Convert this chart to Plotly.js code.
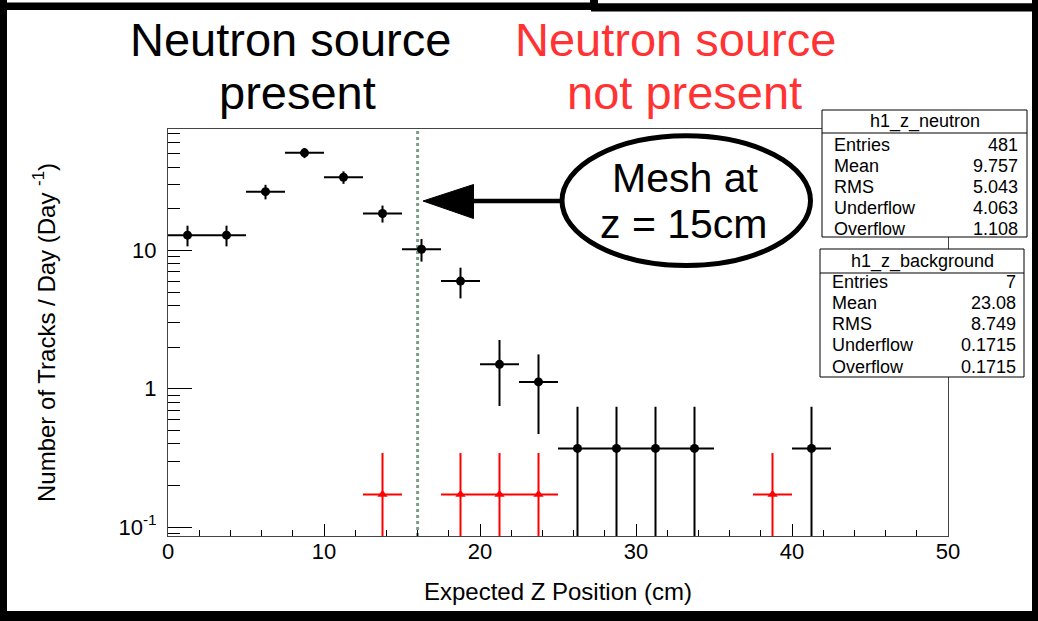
<!DOCTYPE html>
<html>
<head>
<meta charset="utf-8">
<script src="https://cdn.plot.ly/plotly-3.0.1.min.js"></script>
<style>
  html, body { margin: 0; padding: 0; background: #ffffff; }
  #chart { width: 1038px; height: 621px; }
</style>
</head>
<body>
<div id="chart"></div>
<script>
// ---------- data ----------
const neutronZ    = [1.25, 3.75, 6.25, 8.75, 11.25, 13.75, 16.25, 18.75, 21.25, 23.75, 26.25, 28.75, 31.25, 33.75, 41.25];
const neutronRate = [12.9, 12.9, 26.6, 50.8, 33.8, 18.5, 10.2, 6.0, 1.5, 1.12, 0.37, 0.37, 0.37, 0.37, 0.37];
const neutronErr  = [2.2, 2.2, 3.2, 4.3, 3.5, 2.6, 1.9, 1.5, 0.75, 0.65, 0.37, 0.37, 0.37, 0.37, 0.37];
const neutronBinHalf = [1.25, 1.25, 1.25, 1.25, 1.25, 1.25, 1.25, 1.25, 1.25, 1.25, 1.25, 1.25, 1.25, 1.25, 1.25];

const backgroundZ    = [13.75, 18.75, 21.25, 23.75, 38.75];
const backgroundRate = [0.1715, 0.1715, 0.1715, 0.1715, 0.1715];
const backgroundErr  = [0.1715, 0.1715, 0.1715, 0.1715, 0.1715];
const backgroundBinHalf = [1.25, 1.25, 1.25, 1.25, 1.25];

const meshZ = 16;

const xTickVals = [0, 10, 20, 30, 40, 50];
const xMinorStep = 2;
const yTickVals = [0.1, 1, 10];
const yTickText = ['10<sup>-1</sup>', '1', '10'];
const yMinorVals = [0.09, 0.2, 0.3, 0.4, 0.5, 0.6, 0.7, 0.8, 0.9, 2, 3, 4, 5, 6, 7, 8, 9, 20, 30, 40, 50, 60, 70];

const statLabels = ['Entries', 'Mean', 'RMS', 'Underflow', 'Overflow'];
const statsNeutronName = 'h1_z_neutron';
const statsNeutronValues = ['481', '9.757', '5.043', '4.063', '1.108'];
const statsBackgroundName = 'h1_z_background';
const statsBackgroundValues = ['7', '23.08', '8.749', '0.1715', '0.1715'];

// ---------- geometry helpers (pixel -> paper) ----------
const W = 1038, H = 621;
const ML = 168, MR = 90, MT = 129, MB = 85;
const PW = W - ML - MR, PH = H - MT - MB;
const px = x => (x - ML) / PW;
const py = y => (H - MB - y) / PH;

const FONT = 'Liberation Sans, Arial, Helvetica, sans-serif';

function txt(text, x, y, size, color, xanchor) {
  return {
    text: text, xref: 'paper', yref: 'paper', x: px(x), y: py(y),
    xanchor: xanchor || 'center', yanchor: 'middle', showarrow: false,
    font: { family: FONT, size: size, color: color || '#000' }
  };
}
function rectPx(x0, y0, x1, y1, fill, lineColor, lineWidth) {
  return {
    type: 'rect', xref: 'paper', yref: 'paper', layer: 'above',
    x0: px(x0), x1: px(x1), y0: py(y1), y1: py(y0),
    fillcolor: fill, line: { color: lineColor || fill, width: lineWidth === undefined ? 0 : lineWidth }
  };
}

// ---------- traces ----------
const traces = [
  {
    type: 'scatter', mode: 'markers', name: statsNeutronName,
    x: neutronZ, y: neutronRate,
    error_y: { type: 'data', array: neutronErr, visible: true, color: '#000', thickness: 2, width: 0 },
    error_x: { type: 'data', array: neutronBinHalf, visible: true, color: '#000', thickness: 2, width: 0 },
    marker: { color: '#000', size: 9, symbol: 'circle' },
    cliponaxis: true
  },
  {
    type: 'scatter', mode: 'markers', name: statsBackgroundName,
    x: backgroundZ, y: backgroundRate,
    error_y: { type: 'data', array: backgroundErr, visible: true, color: '#ff0000', thickness: 2, width: 0 },
    error_x: { type: 'data', array: backgroundBinHalf, visible: true, color: '#ff0000', thickness: 2, width: 0 },
    marker: { color: '#ff0000', size: 9, symbol: 'triangle-up' },
    cliponaxis: true
  }
];

// ---------- shapes ----------
const shapes = [];
// mesh line
shapes.push({
  type: 'line', xref: 'x', yref: 'paper', x0: meshZ, x1: meshZ, y0: 0, y1: 1, layer: 'below',
  line: { color: '#7a9e88', width: 3, dash: 'dot' }
});
// stats boxes
shapes.push(rectPx(822, 110, 1027, 237, '#ffffff', '#000', 1));
shapes.push({ type: 'line', xref: 'paper', yref: 'paper', layer: 'above', x0: px(822), x1: px(1027), y0: py(133), y1: py(133), line: { color: '#000', width: 1 } });
shapes.push(rectPx(820, 249, 1024, 377, '#ffffff', '#000', 1));
shapes.push({ type: 'line', xref: 'paper', yref: 'paper', layer: 'above', x0: px(820), x1: px(1024), y0: py(273), y1: py(273), line: { color: '#000', width: 1 } });
// ellipse
shapes.push({
  type: 'circle', xref: 'paper', yref: 'paper', layer: 'above',
  x0: px(562), x1: px(810.5), y0: py(265.5), y1: py(135.8),
  fillcolor: '#ffffff', line: { color: '#000', width: 5 }
});
// arrow shaft
shapes.push({ type: 'line', xref: 'paper', yref: 'paper', layer: 'above', x0: px(560), x1: px(468), y0: py(201), y1: py(201), line: { color: '#000', width: 4.5 } });
// arrow head
shapes.push({
  type: 'path', xref: 'paper', yref: 'paper', layer: 'above',
  path: 'M ' + px(423) + ' ' + py(201) + ' L ' + px(473.5) + ' ' + py(184.5) + ' L ' + px(473.5) + ' ' + py(218.5) + ' Z',
  fillcolor: '#000', line: { color: '#000', width: 1 }
});
// outer frame (black border)
shapes.push(rectPx(0, 0, 7, 621, '#000'));
shapes.push(rectPx(1032, 0, 1038, 621, '#000'));
shapes.push(rectPx(0, 2.5, 591, 10, '#000'));
shapes.push(rectPx(590, 0, 598, 10, '#000'));
shapes.push(rectPx(591, 3.3, 1038, 11.5, '#000'));
shapes.push(rectPx(0, 611, 1038, 621, '#000'));

// ---------- annotations ----------
const annotations = [];
annotations.push(txt('Neutron source', 290, 39.5, 47, '#000'));
annotations.push(txt('present', 297, 93, 47, '#000'));
annotations.push(txt('Neutron source', 675.5, 39.5, 47, '#ff3333'));
annotations.push(txt('not present', 684, 93, 47, '#ff3333'));
annotations.push(txt('Mesh at', 685, 177.5, 41, '#000'));
annotations.push(txt('z = 15cm', 683.5, 224, 41, '#000'));

const rowsN = [145, 166, 187, 208, 229];
const rowsB = [282, 303, 324, 345, 366.5];
annotations.push(txt(statsNeutronName, 924.5, 121.5, 18, '#000'));
annotations.push(txt(statsBackgroundName, 922, 261, 18, '#000'));
statLabels.forEach((lab, i) => {
  annotations.push(txt(lab, 832, rowsN[i], 18, '#000', 'left'));
  annotations.push(txt(statsNeutronValues[i], 1020, rowsN[i], 18, '#000', 'right'));
  annotations.push(txt(lab, 830, rowsB[i], 18, '#000', 'left'));
  annotations.push(txt(statsBackgroundValues[i], 1018, rowsB[i], 18, '#000', 'right'));
});

// ---------- layout ----------
const layout = {
  width: W, height: H,
  margin: { l: ML, r: MR, t: MT, b: MB, pad: 0 },
  paper_bgcolor: '#ffffff', plot_bgcolor: '#ffffff',
  showlegend: false,
  font: { family: FONT, color: '#000' },
  xaxis: {
    range: [0, 50], showgrid: false, zeroline: false,
    showline: true, linecolor: '#444', linewidth: 1, mirror: true,
    ticks: 'inside', ticklen: 12, tickwidth: 1, tickcolor: '#000',
    tickmode: 'array', tickvals: xTickVals,
    minor: { dtick: xMinorStep, ticks: 'inside', ticklen: 6, tickwidth: 1, tickcolor: '#000' },
    tickfont: { family: FONT, size: 22, color: '#000' },
    ticklabelstandoff: -4,
    title: { text: 'Expected Z Position (cm)', font: { family: FONT, size: 24, color: '#000' }, standoff: 19 }
  },
  yaxis: {
    type: 'log', range: [-1.065, 1.878], showgrid: false, zeroline: false,
    showline: true, linecolor: '#444', linewidth: 1, mirror: true,
    ticks: 'inside', ticklen: 24, tickwidth: 1, tickcolor: '#000',
    tickmode: 'array', tickvals: yTickVals, ticktext: yTickText,
    minor: { tickmode: 'array', tickvals: yMinorVals, ticks: 'inside', ticklen: 12, tickwidth: 1, tickcolor: '#000' },
    tickfont: { family: FONT, size: 22, color: '#000' },
    ticklabelstandoff: 6,
    title: { text: 'Number of Tracks / Day (Day <sup>-1</sup>)', font: { family: FONT, size: 24, color: '#000' }, standoff: 56 }
  },
  shapes: shapes,
  annotations: annotations
};

Plotly.newPlot('chart', traces, layout, { displayModeBar: false, staticPlot: true });
</script>
</body>
</html>
